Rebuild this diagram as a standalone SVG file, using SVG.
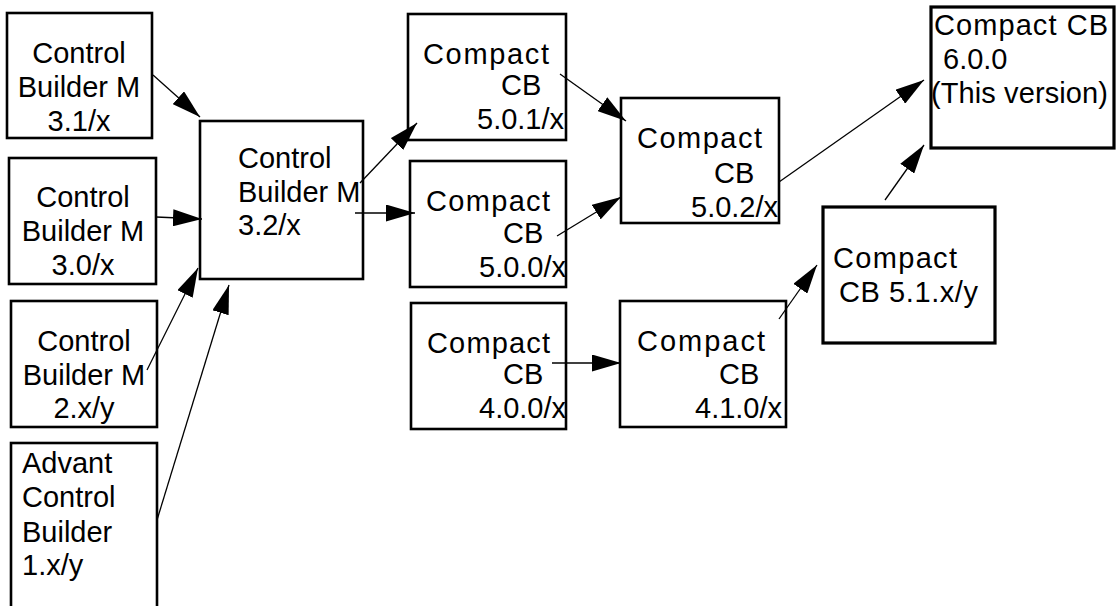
<svg xmlns="http://www.w3.org/2000/svg" width="1116" height="606" viewBox="0 0 1116 606">
<style>
.box{fill:#fff;stroke:#000;stroke-width:2.6}
.thick{stroke-width:3.2}
text{font-family:"Liberation Sans",Arial,Helvetica,sans-serif;font-size:29px;fill:#000}
.c{text-anchor:middle}
.conn line{stroke:#000;stroke-width:1.3;marker-end:url(#ah)}
</style>
<defs>
<marker id="ah" viewBox="0 0 29 17" refX="29" refY="8.5" markerWidth="29" markerHeight="17" markerUnits="userSpaceOnUse" orient="auto">
<path d="M0,0 L29,8.5 L0,17 z" fill="#000"/>
</marker>
</defs>
<rect width="1116" height="606" fill="#fff"/>
<g id="cbm31">
<rect class="box" x="7" y="13" width="145" height="125"/>
<text class="c" x="79" y="63">Control</text>
<text class="c" x="79" y="97">Builder M</text>
<text class="c" x="79" y="131">3.1/x</text>
</g>
<g id="cbm30">
<rect class="box" x="9" y="158" width="147" height="126"/>
<text class="c" x="83" y="207">Control</text>
<text class="c" x="83" y="241">Builder M</text>
<text class="c" x="83" y="275">3.0/x</text>
</g>
<g id="cbm2">
<rect class="box" x="11" y="301" width="146" height="126"/>
<text class="c" x="84" y="351">Control</text>
<text class="c" x="84" y="385">Builder M</text>
<text class="c" x="84" y="418">2.x/y</text>
</g>
<g id="acb1">
<rect class="box" x="11" y="443" width="146" height="180"/>
<text x="22" y="473">Advant</text>
<text x="22" y="507">Control</text>
<text x="22" y="542">Builder</text>
<text x="22" y="575">1.x/y</text>
</g>
<g id="cbm32">
<rect class="box" x="200" y="121" width="163" height="158"/>
<text x="238" y="168">Control</text>
<text x="238" y="202">Builder M</text>
<text x="238" y="235">3.2/x</text>
</g>
<g id="cb501">
<rect class="box" x="408" y="14" width="158" height="126"/>
<text x="423" y="64" textLength="126" lengthAdjust="spacing">Compact</text>
<text x="501" y="95">CB</text>
<text x="477" y="129">5.0.1/x</text>
</g>
<g id="cb500">
<rect class="box" x="410" y="161" width="156" height="126"/>
<text x="426" y="211" textLength="124" lengthAdjust="spacing">Compact</text>
<text x="503" y="243">CB</text>
<text x="479" y="277">5.0.0/x</text>
</g>
<g id="cb400">
<rect class="box" x="411" y="303" width="155" height="126"/>
<text x="427" y="353" textLength="123" lengthAdjust="spacing">Compact</text>
<text x="503" y="384">CB</text>
<text x="479" y="418">4.0.0/x</text>
</g>
<g id="cb502">
<rect class="box" x="621" y="98" width="158" height="125"/>
<text x="637" y="148" textLength="125" lengthAdjust="spacing">Compact</text>
<text x="714" y="183">CB</text>
<text x="691" y="217">5.0.2/x</text>
</g>
<g id="cb410">
<rect class="box" x="620" y="301" width="166" height="126"/>
<text x="637" y="351" textLength="128" lengthAdjust="spacing">Compact</text>
<text x="719" y="384">CB</text>
<text x="695" y="418">4.1.0/x</text>
</g>
<g id="cb51">
<rect class="box thick" x="823" y="207" width="172" height="136"/>
<text x="833" y="268" textLength="124" lengthAdjust="spacing">Compact</text>
<text x="839" y="302" textLength="139" lengthAdjust="spacing">CB 5.1.x/y</text>
</g>
<g id="cb600">
<rect class="box thick" x="931" y="7" width="183" height="141"/>
<text x="934" y="35" textLength="174" lengthAdjust="spacing">Compact CB</text>
<text x="943" y="69">6.0.0</text>
<text x="931" y="103" textLength="177" lengthAdjust="spacing">(This version)</text>
</g>
<g class="conn" id="connectors">
<line x1="153" y1="75" x2="200" y2="117"/>
<line x1="156" y1="217" x2="202" y2="219"/>
<line x1="147" y1="370" x2="198" y2="268"/>
<line x1="157" y1="520" x2="229" y2="285"/>
<line x1="360" y1="183" x2="417" y2="123"/>
<line x1="355" y1="213" x2="415" y2="213"/>
<line x1="560" y1="74" x2="626" y2="121"/>
<line x1="557" y1="236" x2="621" y2="197"/>
<line x1="552" y1="363" x2="621" y2="363"/>
<line x1="779" y1="319" x2="817" y2="265"/>
<line x1="779" y1="182" x2="924" y2="80"/>
<line x1="885" y1="200" x2="924" y2="145"/>
</g>
</svg>
